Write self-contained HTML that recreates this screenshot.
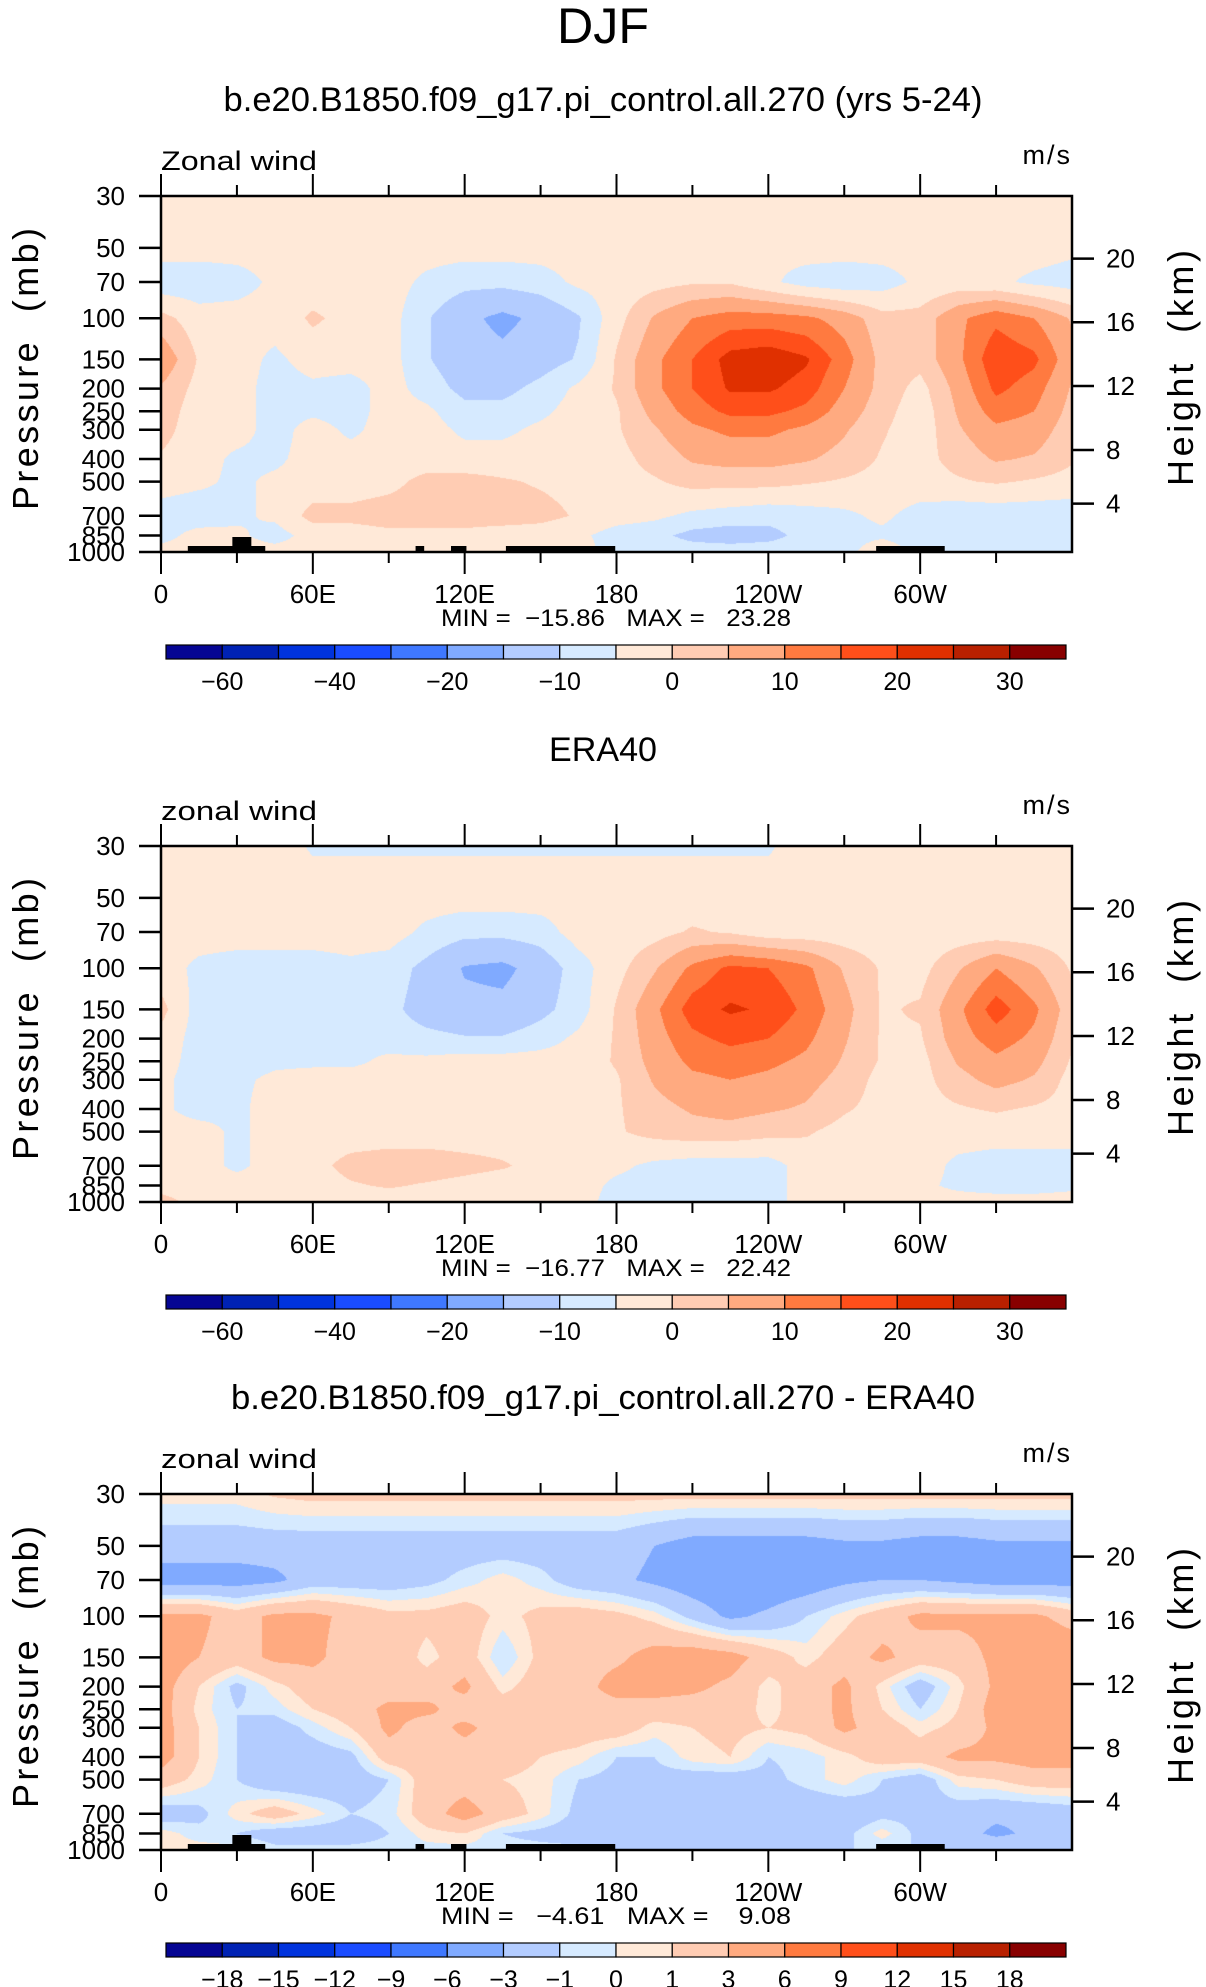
<!DOCTYPE html>
<html><head><meta charset="utf-8">
<style>
html,body{margin:0;padding:0;background:#fff;}
#wrap{position:relative;width:1206px;height:1987px;overflow:hidden;background:#fff;}
canvas{position:absolute;}
svg{position:absolute;left:0;top:0;}
text{font-family:"Liberation Sans",sans-serif;fill:#000;white-space:pre;}
</style></head>
<body>
<div id="wrap">
<svg id="ov" width="1206" height="1987"></svg>
</div>
<script>
// ---- data ----
const lons = [0,15,30,45,60,75,90,105,120,135,150,165,180,195,210,225,240,255,270,285,300,315,330,345,360];
const levels = [30,50,70,100,150,200,250,300,400,500,700,850,1000];
const pressureTicks = [30,50,70,100,150,200,250,300,400,500,700,850,1000];
const lonTickValues = [0,60,120,180,240,300];
const lonTickLabels = ["0","60E","120E","180","120W","60W"];
const heightTickLabels = ["20","16","12","8","4"];
const heightTickPressures = [55.6,104,195,366,621];
const windContourLevels = [-60,-50,-40,-30,-20,-10.5,-4.5,0,4.5,8.5,13,17,20.5,26,32];
const windLabels = ["-60","-40","-20","-10","0","10","20","30"];
const windLabelIdx = [0,2,4,6,8,10,12,14];
const diffLevels = [-18,-15,-12,-9,-6,-3,-1,0,1,3,6,9,12,15,18];
const diffLabels = ["-18","-15","-12","-9","-6","-3","-1","0","1","3","6","9","12","15","18"];
const colors = ["#050593","#0022b4","#0033dd","#1a4cff","#3f78ff","#80aaff","#b3ccff","#d6eaff","#ffe9d8","#ffccb3","#ffaa80","#ff7a40","#ff4f1a","#e03000","#b82000","#880000"];
const topoSegments = [[10.6,41.2,6],[28.2,35.7,15],[100.6,104,6],[114.6,120.7,6],[136.3,179.5,6],[282.6,309.7,6]];

const modelWind = [
[2,2,2,2,2,2,2,2,2,2,2,2,2,2,2,2,2,2,2,2,2,2,2,2,2],
[2,2,2,2,2,2,2,2,2,2,2,2,2,2,2,1,1,2,2,2,2,2,2,2,1],
[-3,-3,-2,1,2,2,2,-1,-3,-3,-2,1,2,3,4,4,1,-2,-3,-2,1,2,1,-1,-2],
[6,2,2,2,5.2,3,2,-4,-9,-12,-9,-5,3,9,13,15,15,14,11,6,6,12,16,13,8],
[12,4,2,-1,2,2,2,-4,-8,-9,-7,-4,5,12,17,22,23,21,15,7,6,12,20,18,10],
[8,3,2,-2,-1,-2,2,-2,-6,-6,-3,1,5,12,17,21,21,19,13,7,3,10,18,15,8],
[7,2,2,-2,-1,-2,2,1,-3,-3,-1,2,4,10,15,18,18,16,11,6,2,9,15,13,7],
[6,2,2,-2,2,-1,2,2,-1,-1,1,2,4,8,12,14,14,12,9,5,2,8,12,11,6],
[4,2,-1,-1,2,2,2,2,2,2,2,2,3,6,9,10,10,9,7,4,3,6,9,8,5],
[2,1,-1,1,2,2,3,6,6,5,4,3,3,4,6,6,6,5,4,3,3,4,5,4,3],
[-2,-3,-1,1,6,6,7,7,7,7,6,4,2,1,-1,-2,-3,-2,-1,1,-2,-3,-3,-3,-3],
[-2,2,1,-2,2,2,3,3,3,2,2,1,-2,-3,-6,-7,-6,-3,-2,-1,-3,-3,-3,-3,-3],
[2,3,2,2,2,2,2,2,2,2,2,2,-2,-2,-2,-2,-2,-2,-2,4,-2,-2,-2,-2,-2]
];
const eraWind = [
[2,2,2,2,-0.5,-0.5,-0.5,-0.5,-0.5,-0.5,-0.5,-0.5,-0.5,-0.5,-0.5,-0.5,-0.5,2,2,2,2,2,2,2,2],
[2,2,2,2,2,2,2,2,2,2,2,2,2,2,2,2,2,2,2,2,2,2,2,2,2],
[2,2,2,2,2,2,2,-1,-3,-3,-2,2,2,3,5,4,2,2,2,2,2,2,2,2,2],
[2,-1,-2,-2,-2,-1,-2,-6,-11,-12,-8,-2,3,8,14,18,17,14,8,4,3,8,13,9,4],
[6,-2,-3,-2,-3,-3,-3,-7,-9,-9,-6,-2,5,12,19,21,20,16,10,4,5,12,19,14,6],
[3,-2,-3,-2,-2,-1,-2,-3,-4,-4,-2,1,5,11,16,18,17,14,9,4,4,11,15,12,5],
[2,-2,-2,-1,-1,-1,1,1,2,2,2,2,5,10,14,15,14,12,8,4,3,9,12,10,4],
[1,-2,-1,1,2,2,2,2,2,2,2,2,4,9,12,13,12,10,7,3,3,7,10,8,3],
[1,-2,-1,2,2,2,2,2,2,2,2,2,4,7,9,10,9,8,5,3,3,4,5,4,3],
[2,2,-1,2,2,2,2,2,2,2,2,3,4,6,7,7,6,5,3,2,2,2,2,2,2],
[2,2,-1,2,3,6,7,7,6,5,3,2,1,-1,-2,-2,-2,2,2,2,2,-1,-2,-2,-2],
[3,2,2,2,2,4,5,4,3,2,2,2,-1,-2,-3,-2,-1,1,2,4,1,-1,-2,-2,-1],
[6,3,2,2,2,2,2,2,2,2,2,2,-2,-2,-2,-2,-2,2,2,2,2,2,2,2,2]
];
const diffWind = [
[0.5,0.5,0.5,1.2,1.5,1.5,1.5,1.5,1.5,1.5,1.5,1.5,1.5,1.5,1.5,1.5,1.5,1.5,1.5,1.5,1.5,1.5,1.5,1.5,1.5],
[-2,-2,-2,-2,-2,-2,-2,-2,-2,-2,-2,-2,-2,-3,-4,-4,-4,-4,-3.5,-3.5,-4,-4,-3.5,-3.5,-3.5],
[-4,-4,-4,-3.5,-2,-2,-2,-1.5,-0.5,0.5,-0.5,-2,-2.5,-3.5,-4.5,-5,-5,-4.5,-3.5,-3,-3,-3.5,-4,-4,-4],
[3.5,3.5,2,3.5,3.5,2.5,1.5,1.5,2,0.5,1.5,2,1.5,0.5,-1.5,-3.5,-2.5,-1,0.5,2,3.5,3.5,3.5,3.5,2],
[4.5,3,2,3.5,3.5,2,2.5,0.5,2,-1,1.5,2,2.5,4,4.5,4,2,0.5,2,3.5,2,2,3.5,5.5,5],
[4,1,-1.5,0.5,2,2,2,2,3.5,0.5,2,2,4,4,3.5,2.5,0.5,2,3.5,0.5,-2,0.5,3.5,6,5],
[4,0.5,-1,-0.5,1,2,3.5,3.5,2,2,2,2,2,2,2,2,0.5,2,3.5,1,-1,1,4,6,4],
[4,1,-1,-2,-0.5,1,3.5,2,3.5,2,2,2,2,0.5,1,1.5,1,1.5,3.5,2,0.5,1.5,3.5,4,4],
[4,1,-1,-2,-2,-1.5,2,2,2,2,1,0.5,-1,-1,0.5,1,-1,-0.5,0.5,2,2,3.5,3.5,4,4],
[2,0.5,-1,-2.5,-2.5,-2,-1,2,2,1,0.5,-1,-1.5,-1.5,-2,-2,-1.5,-0.5,0.5,-1,-2,0.5,1,2,2],
[-2,-1.5,0.5,2,0.5,-1,-0.5,2,4,2,0.5,-1.5,-2,-2.5,-2.5,-2.5,-2.5,-2.5,-2.5,-1.5,-1.5,-2,-2.5,-2.5,-2],
[0.5,-0.5,-1,-2,-2,-2,-1,0.5,1,-1,-1.5,-2,-2,-2,-2,-2,-2,-2,-1.5,0.5,-1.5,-2,-3.5,-2.5,-2],
[0.5,0.5,0.5,-0.5,-0.5,-0.5,-0.5,-0.5,-0.5,-0.5,-0.5,-0.5,-1,-1,-1,-1,-1,-1,-1,-1,-1,-1,-1,-1,-1]
];

// ---- layout ----
const X0=161, X1=1072, PW=X1-X0, PH=356;
const NS="http://www.w3.org/2000/svg";
const ov=document.getElementById('ov');
const wrap=document.getElementById('wrap');
function xOf(lon){return X0+lon/360*PW;}
function yOf(p,top){return top+Math.log(p/30)/Math.log(1000/30)*PH;}
function el(tag,attrs,parent){const e=document.createElementNS(NS,tag);for(const k in attrs)e.setAttribute(k,attrs[k]);(parent||ov).appendChild(e);return e;}
function txt(s,x,y,size,anchor,parent,extra){const t=el('text',Object.assign({x:x,y:y,'font-size':size,'text-anchor':anchor||'middle'},extra||{}),parent);t.textContent=s;return t;}

function sample(grid,lon,p){
  const fx=lon/15; let i=Math.min(Math.floor(fx),lons.length-2); const tx=fx-i;
  const lp=Math.log(p); let j=0;
  while(j<levels.length-2 && Math.log(levels[j+1])<lp) j++;
  const ty=(lp-Math.log(levels[j]))/(Math.log(levels[j+1])-Math.log(levels[j]));
  const a=grid[j][i],b=grid[j][i+1],c=grid[j+1][i],d=grid[j+1][i+1];
  return (a*(1-tx)+b*tx)*(1-ty)+(c*(1-tx)+d*tx)*ty;
}
function binOf(v,lv){let k=0;while(k<lv.length&&v>=lv[k])k++;return k;}
function hexRgb(h){return [parseInt(h.substr(1,2),16),parseInt(h.substr(3,2),16),parseInt(h.substr(5,2),16)];}
const rgb=colors.map(hexRgb);

function drawPanel(top,grid,lv,title,titleLen,label,minmax,topo,barLabels,barIdx,pn){
  const g=el('g',{});
  
  
  const cv=document.createElement('canvas');
  cv.width=PW;cv.height=PH;cv.style.left=X0+'px';cv.style.top=top+'px';
  
  
  wrap.insertBefore(cv,ov);
  const ctx=cv.getContext('2d');const img=ctx.createImageData(PW,PH);
  for(let py=0;py<PH;py++){
    const p=30*Math.exp((py+0.5)/PH*Math.log(1000/30));
    for(let px=0;px<PW;px++){
      const lon=(px+0.5)/PW*360;
      const c=rgb[binOf(sample(grid,lon,p),lv)];
      const o=(py*PW+px)*4;img.data[o]=c[0];img.data[o+1]=c[1];img.data[o+2]=c[2];img.data[o+3]=255;
    }
  }
  ctx.putImageData(img,0,0);
  topo.forEach(s=>{
    const r=el('rect',{x:xOf(s[0]),y:top+PH-s[2],width:xOf(s[1])-xOf(s[0]),height:s[2],fill:'#000'},g);
    
    
  });
  const fr=el('rect',{x:X0,y:top,width:PW,height:PH,fill:'none',stroke:'#000','stroke-width':2.5},g);
  
  
  const t=txt(title,603,top-85,34,'middle',g,{textLength:titleLen,lengthAdjust:'spacingAndGlyphs'});
  
  
  const lab=txt(label,X0,top-26,27,'start',g,{textLength:156,lengthAdjust:'spacingAndGlyphs'});
  
  
  const un=txt('m/s',X1,top-32,27,'end',g,{'letter-spacing':'2'});
  
  
  for(let lon=0;lon<=330;lon+=30){
    const major=lon%60===0;const L=major?22:11;const x=xOf(lon);
    el('line',{x1:x,y1:top,x2:x,y2:top-L,stroke:'#000','stroke-width':2},g);
    el('line',{x1:x,y1:top+PH,x2:x,y2:top+PH+L,stroke:'#000','stroke-width':2},g);
  }
  lonTickValues.forEach((v,i)=>{
    const tl=txt(lonTickLabels[i],xOf(v),top+PH+51,26,'middle',g);
    
    
  });
  pressureTicks.forEach(p=>{
    const y=yOf(p,top);
    el('line',{x1:X0,y1:y,x2:X0-22,y2:y,stroke:'#000','stroke-width':2.5},g);
    const tl=txt(String(p),X0-36,y+9,26,'end',g);
    
    
  });
  heightTickPressures.forEach((p,i)=>{
    const y=yOf(p,top);
    el('line',{x1:X1,y1:y,x2:X1+22,y2:y,stroke:'#000','stroke-width':2.5},g);
    const tl=txt(heightTickLabels[i],X1+34,y+9,26,'start',g);
    
    
  });
  const cy=top+PH/2-5;
  const yt=txt('Pressure  (mb)',0,0,36,'middle',g,{transform:'translate(38,'+cy+') rotate(-90)',textLength:282,lengthAdjust:'spacing'});
  
  
  const ht=txt('Height  (km)',0,0,36,'middle',g,{transform:'translate(1193,'+(cy-1)+') rotate(-90)',textLength:236,lengthAdjust:'spacing'});
  
  
  const mm=txt(minmax,616,top+PH+74,24,'middle',g,{textLength:350,lengthAdjust:'spacingAndGlyphs'});
  
  
  const bx0=166,bx1=1066,by=top+449,bh=14,bw=(bx1-bx0)/16;
  for(let k=0;k<16;k++){
    const r=el('rect',{x:bx0+k*bw,y:by,width:bw,height:bh,fill:colors[k],stroke:'#000','stroke-width':1.2},g);
    
    
  }
  barIdx.forEach((bi,i)=>{
    const tl=txt(barLabels[i].replace('-','\u2212'),bx0+(bi+1)*bw,by+bh+31,25,'middle',g);
    
    
  });
}
const dj=txt('DJF',603,43,50,'middle',ov,{textLength:92,lengthAdjust:'spacingAndGlyphs'});


drawPanel(196,modelWind,windContourLevels,'b.e20.B1850.f09_g17.pi_control.all.270 (yrs 5-24)',759,'Zonal wind','MIN =  \u221215.86   MAX =   23.28',topoSegments,windLabels,windLabelIdx,'model');
drawPanel(846,eraWind,windContourLevels,'ERA40',108,'zonal wind','MIN =  \u221216.77   MAX =   22.42',[],windLabels,windLabelIdx,'era40');
drawPanel(1494,diffWind,diffLevels,'b.e20.B1850.f09_g17.pi_control.all.270 - ERA40',744,'zonal wind','MIN =   \u22124.61   MAX =    9.08',topoSegments,diffLabels,[0,1,2,3,4,5,6,7,8,9,10,11,12,13,14],'difference');
</script>
</body></html>
